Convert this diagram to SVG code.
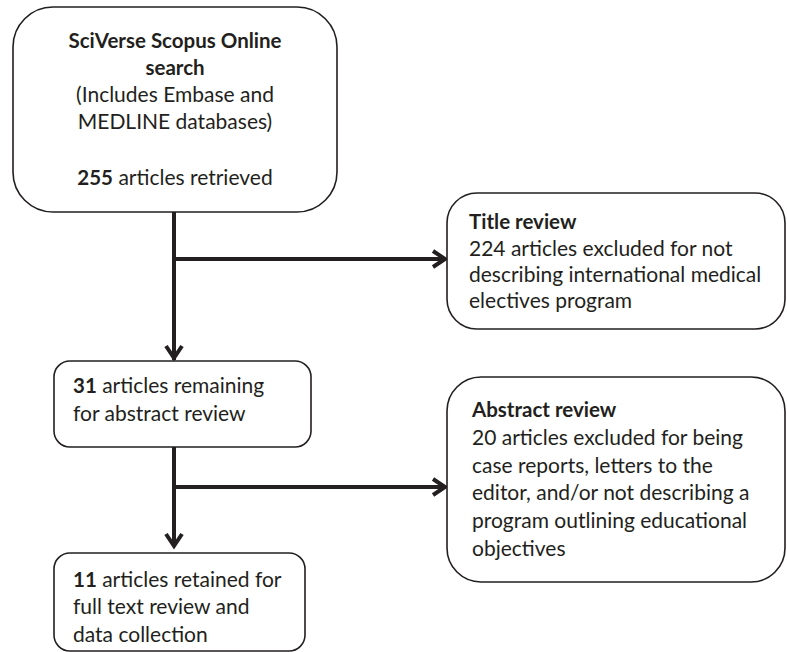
<svg xmlns="http://www.w3.org/2000/svg" width="787" height="652" viewBox="0 0 787 652">
<style>
  .box { fill: #ffffff; stroke: #231f20; stroke-width: 1.6; }
  .t { font-family: Lato, "Open Sans", sans-serif; font-size: 21px; fill: #231f20; }
  .b { font-weight: bold; font-size: 20.5px; }
  .c { text-anchor: middle; }
  .conn { stroke: #231f20; stroke-width: 4; fill: none; }
</style>
<rect width="787" height="652" fill="#ffffff"/>
<g id="connectors">
  <path class="conn" d="M174 212 V360"/>
  <path class="conn" d="M174 259 H445"/>
  <path class="conn" d="M174 447 V546"/>
  <path class="conn" d="M174 487 H445"/>
  <path class="conn" d="M166 346 L174 358 L182 346"/>
  <path class="conn" d="M166 534 L174 546 L182 534"/>
  <path class="conn" d="M433 251 L445 259 L433 267"/>
  <path class="conn" d="M433 479 L445 487 L433 495"/>
</g>
<g id="search">
  <rect class="box" x="13" y="7" width="324" height="205" rx="40"/>
  <text class="t c" x="175"><tspan class="b" x="175" y="48">SciVerse Scopus Online</tspan><tspan class="b" x="175" y="75">search</tspan><tspan x="175" y="102">(Includes Embase and</tspan><tspan x="175" y="129">MEDLINE databases)</tspan><tspan x="175" y="185"><tspan class="b">255</tspan> articles retrieved</tspan></text>
</g>
<g id="title-review">
  <rect class="box" x="447" y="193" width="338" height="136" rx="30"/>
  <text class="t"><tspan class="b" x="469" y="229">Title review</tspan><tspan x="469" y="256">224 articles excluded for not</tspan><tspan x="469" y="282">describing international medical</tspan><tspan x="469" y="308">electives program</tspan></text>
</g>
<g id="abstract-pool">
  <rect class="box" x="54" y="361" width="257" height="86" rx="16"/>
  <text class="t"><tspan x="73" y="393"><tspan class="b">31</tspan> articles remaining</tspan><tspan x="73" y="421">for abstract review</tspan></text>
</g>
<g id="abstract-review">
  <rect class="box" x="447" y="377" width="338" height="205" rx="34"/>
  <text class="t"><tspan class="b" x="472" y="417">Abstract review</tspan><tspan x="472" y="445">20 articles excluded for being</tspan><tspan x="472" y="473">case reports, letters to the</tspan><tspan x="472" y="500">editor, and/or not describing a</tspan><tspan x="472" y="528">program outlining educational</tspan><tspan x="472" y="556">objectives</tspan></text>
</g>
<g id="retained">
  <rect class="box" x="54" y="553" width="251" height="98" rx="16"/>
  <text class="t"><tspan x="73" y="587"><tspan class="b">11</tspan> articles retained for</tspan><tspan x="73" y="614">full text review and</tspan><tspan x="73" y="642">data collection</tspan></text>
</g>
</svg>
